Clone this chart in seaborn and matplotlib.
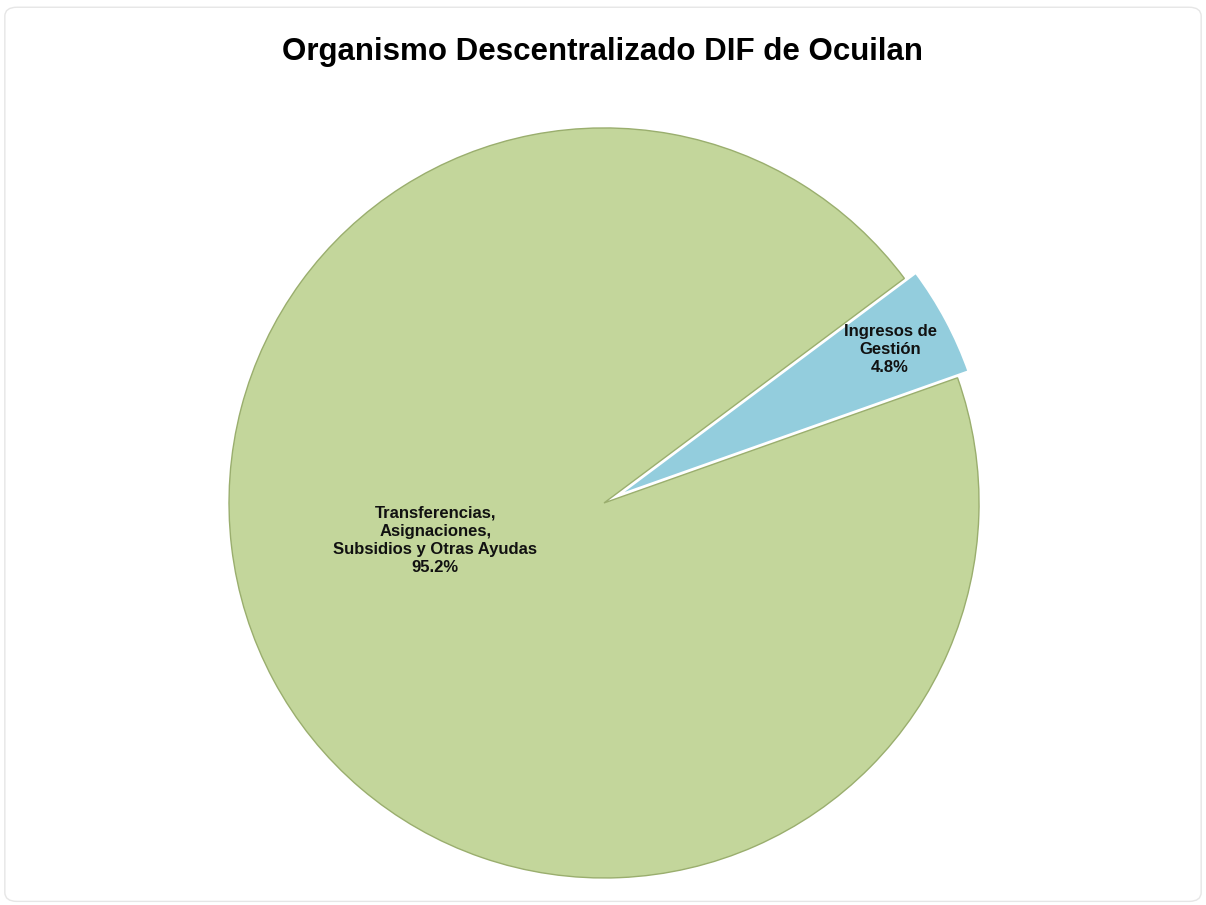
#
# Pie chart: Organismo Descentralizado DIF de Ocuilan
#

import matplotlib
matplotlib.use("Agg")
import matplotlib.pyplot as plt
from matplotlib.patches import FancyBboxPatch
import seaborn as sns

categories = ["Ingresos de\nGestión", "Transferencias,\nAsignaciones,\nSubsidios y Otras Ayudas"]
shares = [4.8, 95.2]
colors = ["#93CDDD", "#C3D69B"]
edges = ["white", "#9AAE6E"]

sns.set_theme(style="white")
plt.rcParams["font.family"] = ["Liberation Sans", "DejaVu Sans"]

fig = plt.figure(figsize=(12.06, 9.05), dpi=100)
fig.patch.set_facecolor("white")

# faint frame round the chart area
frame = FancyBboxPatch((0.004, 0.004), 0.992, 0.988, boxstyle="round,pad=0,rounding_size=0.01",
                       transform=fig.transFigure, facecolor="none", edgecolor="#E6E6E6", linewidth=1.0)
fig.patches.append(frame)

ax = fig.add_axes([0.1277, -0.053, 0.7463, 0.9945])
wedges, texts = ax.pie(
    shares,
    labels=[f"{c}\n{s:.1f}%" for c, s in zip(categories, shares)],
    colors=colors,
    startangle=19.5,
    counterclock=True,
    explode=[0.035, 0],
    labeldistance=0.83,
    wedgeprops={"linewidth": 1.5},
    textprops={"fontsize": 12, "fontweight": "bold", "color": "#111111",
               "ha": "center", "va": "center", "multialignment": "center",
               "linespacing": 1.25},
)
for w, ec in zip(wedges, edges):
    w.set_edgecolor(ec)
wedges[0].set_linewidth(2.2)
wedges[1].set_linewidth(1.0)

# big slice label sits left of the centre
texts[1].set_position((-0.45, -0.1))

ax.set_xlim(-1.2, 1.2)
ax.set_ylim(-1.2, 1.2)
ax.set_aspect("equal")
ax.axis("off")

fig.text(0.5, 0.943, "Organismo Descentralizado DIF de Ocuilan", ha="center", va="center",
         fontsize=22.5, fontweight="bold", color="black")

fig.savefig("out.png", dpi=100)
